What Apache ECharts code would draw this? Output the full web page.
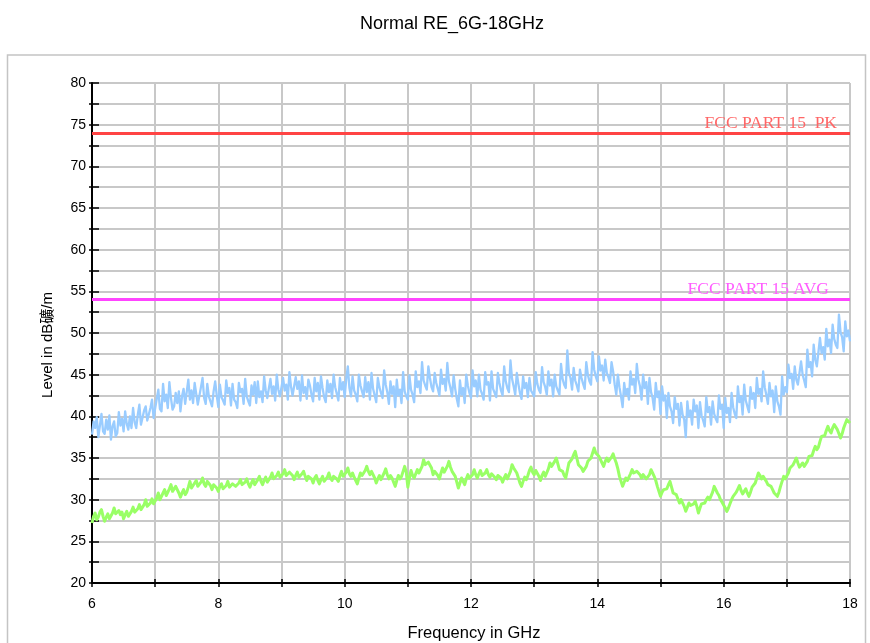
<!DOCTYPE html>
<html><head><meta charset="utf-8">
<script src="https://cdn.jsdelivr.net/npm/echarts@6/dist/echarts.min.js"></script>
<style>html,body{margin:0;padding:0;background:#fff}#c{width:870px;height:643px}</style>
</head><body><div id="c"></div>
<script>
const titleText = 'Normal RE_6G-18GHz';
const xName = 'Frequency in GHz';
const yName = 'Level in dB礦/m';
const xMin = 6, xMax = 18, xInterval = 1, xLabelEvery = 2;
const yMin = 20, yMax = 80, yInterval = 2.5, yLabelEvery = 5;
const freqStart = 6, freqStep = 0.025;
const pkLimit = 74, avgLimit = 54;
const pkLabel = 'FCC PART 15  PK';
const avgLabel = 'FCC PART 15 AVG';

// peak trace (blue), one row per GHz, 0.025 GHz steps
const peakTrace = [
 37.8,39.4,38.6,39.9,37.5,38.9,40.3,38.2,37.9,39.6,38.4,40.1,37.2,38.8,39.4,37.6,38.0,40.5,38.9,39.7,
 38.2,40.6,39.1,38.4,40.0,38.6,41.0,39.3,38.6,40.2,41.4,39.0,39.0,40.7,41.2,39.5,39.3,41.0,42.0,39.8,
 40.0,42.1,43.2,40.9,40.6,43.9,41.8,42.6,41.0,44.1,42.2,40.8,41.2,42.8,41.6,43.0,40.6,42.4,43.3,41.5,
 41.3,44.4,42.0,43.1,41.6,44.0,42.7,41.4,41.4,43.5,44.6,42.2,41.5,43.9,42.4,41.8,41.2,43.0,44.2,42.5,
 41.1,43.8,42.3,41.9,41.4,44.3,42.8,43.4,41.3,43.9,42.0,41.7,41.0,44.0,42.9,43.3,41.5,44.5,42.4,41.8,
 41.3,43.7,42.6,44.1,41.6,44.2,42.3,43.0,41.7,44.8,43.1,42.2,42.0,44.5,42.7,43.6,41.9,45.0,43.2,42.4,
 42.2,44.6,43.1,43.8,42.0,45.3,43.6,42.5,42.4,44.7,43.3,44.2,41.9,44.9,42.8,43.5,42.1,44.4,43.7,42.6,
 41.8,44.6,43.0,44.0,42.0,44.8,43.4,42.3,41.7,44.3,42.9,43.9,42.2,45.0,43.5,42.7,41.9,44.6,43.2,44.1,
 42.3,44.5,46.0,43.4,42.4,44.8,43.1,42.6,41.8,45.0,43.7,43.0,42.3,44.7,42.9,44.1,42.0,45.2,43.3,42.5,
 41.7,44.6,43.5,42.8,42.2,45.5,43.8,42.9,41.5,44.2,42.7,43.6,41.1,44.4,42.5,43.2,41.6,45.3,43.0,42.4,
 42.0,44.9,43.2,42.6,41.7,45.4,43.5,44.2,42.8,46.5,44.3,43.7,43.2,46.0,44.6,43.5,43.0,45.2,44.0,43.3,
 42.5,45.6,43.9,44.5,43.1,46.4,44.2,43.4,42.4,44.9,43.3,42.1,41.2,44.3,42.6,43.4,41.6,45.0,43.7,42.8,
 42.2,45.5,43.6,44.3,42.4,45.0,43.2,42.7,42.0,45.3,43.8,44.1,41.9,45.4,43.3,42.8,42.3,45.2,44.0,43.1,
 42.5,46.0,44.2,43.4,42.9,46.7,44.5,43.6,42.6,45.2,43.9,42.8,42.1,44.8,43.4,44.0,42.3,44.6,43.1,42.9,
 42.4,45.3,43.9,43.2,42.8,45.9,44.1,43.5,42.6,45.4,43.7,44.4,42.4,45.0,43.6,43.1,42.6,46.3,44.5,43.8,
 43.4,47.9,45.2,44.6,43.2,45.8,44.3,43.7,43.0,45.6,44.6,43.9,43.3,46.5,45.0,44.2,43.8,47.7,45.6,44.8,
 44.2,47.2,45.5,46.1,44.3,46.8,45.2,44.7,44.0,46.5,45.4,43.8,42.6,45.0,43.5,42.4,41.1,44.0,42.6,43.3,
 42.0,45.4,43.8,44.5,42.8,46.3,44.4,43.6,42.0,45.0,43.4,44.1,41.5,44.6,42.9,42.2,40.8,44.0,42.3,43.0,
 40.3,43.6,41.9,42.5,39.8,42.8,41.2,40.6,39.2,42.3,40.9,41.5,38.9,41.6,40.2,39.6,37.5,41.8,40.0,40.7,
 39.0,42.0,40.6,41.3,38.6,41.7,40.1,39.5,38.8,42.3,40.5,41.1,39.0,41.8,40.3,39.7,39.3,42.5,40.9,41.4,
 38.6,42.2,40.4,41.0,39.3,42.8,41.1,40.3,39.8,43.6,41.7,42.4,40.2,43.8,41.9,41.2,40.5,43.5,42.1,42.8,
 41.0,44.6,42.7,43.3,41.8,45.4,43.5,42.6,41.5,44.0,42.4,43.1,40.5,43.6,41.8,41.2,40.2,44.8,42.6,43.5,
 42.9,46.2,44.6,45.1,43.3,46.0,44.4,43.8,43.6,46.6,45.0,44.3,43.5,48.0,45.9,46.5,44.8,48.6,46.8,46.0,
 45.9,49.4,47.6,48.3,46.8,50.5,48.4,49.2,47.6,51.0,49.3,48.6,48.2,52.2,50.1,49.5,47.8,51.4,49.6,50.3,
 49.0
];

// average trace (green), one row per GHz, 0.025 GHz steps
const avgTrace = [
 27.2,28.0,28.4,27.6,27.9,28.5,28.8,28.0,27.4,27.9,28.3,27.7,27.6,28.4,29.0,28.3,28.1,28.7,28.2,28.5,
 27.7,28.2,28.6,28.0,28.0,28.6,29.1,28.5,28.4,28.9,29.4,28.8,28.8,29.4,30.0,29.2,29.0,29.6,30.1,29.5,
 29.4,30.2,30.8,30.0,30.2,30.8,31.2,30.5,30.6,31.3,31.8,31.0,31.0,31.6,31.4,30.8,30.3,30.8,31.2,30.6,
 30.9,31.5,32.2,31.4,31.3,32.0,32.3,31.6,31.5,32.1,32.6,31.9,31.6,32.2,32.3,31.7,31.2,31.8,32.0,31.4,
 31.0,31.6,31.9,31.3,31.1,31.7,32.2,31.5,31.3,31.9,32.1,31.6,31.4,32.0,32.4,31.8,31.6,32.1,32.5,31.9,
 31.5,32.0,32.4,31.8,31.9,32.4,32.8,32.2,31.8,32.3,32.7,32.1,32.1,32.7,33.2,32.5,32.3,32.9,33.3,32.7,
 32.5,33.1,33.6,32.9,32.8,33.3,33.5,32.9,32.4,32.9,33.3,32.7,32.6,33.1,33.4,32.8,32.3,32.8,33.0,32.5,
 32.0,32.6,32.9,32.3,31.9,32.4,32.8,32.2,32.1,32.7,33.2,32.6,32.3,32.8,33.0,32.5,32.2,32.9,33.4,32.8,
 32.6,33.3,33.8,33.1,32.8,33.2,32.7,32.3,31.9,32.6,33.2,32.9,32.8,33.5,34.0,33.4,33.0,33.4,33.3,32.6,
 32.0,32.5,32.9,32.4,32.6,33.2,33.7,33.0,32.5,32.9,32.6,32.1,31.6,32.3,32.9,32.5,32.8,33.4,34.0,33.3,
 31.5,32.6,33.5,32.9,32.6,33.1,33.6,33.2,33.2,34.0,34.8,34.2,34.0,34.5,34.6,33.8,33.0,33.4,33.5,32.9,
 32.5,33.2,33.8,33.3,33.3,34.0,34.6,33.9,33.4,33.2,32.8,32.1,31.4,32.0,32.6,32.2,31.8,32.5,33.0,32.6,
 32.4,33.0,33.6,33.0,32.6,33.1,33.5,32.9,32.7,33.2,33.6,33.0,32.7,33.1,33.2,32.7,32.4,32.9,33.1,32.6,
 32.1,32.6,33.0,32.5,32.6,33.4,34.2,33.8,33.6,33.2,32.6,32.0,31.6,32.2,32.7,32.4,32.9,33.5,33.9,33.3,
 33.0,33.5,33.4,32.8,32.3,32.9,33.3,32.8,33.0,33.7,34.4,34.0,34.0,34.6,35.0,34.3,33.6,33.8,33.4,32.9,
 32.6,33.5,34.4,34.2,34.9,35.4,35.8,35.0,34.2,34.3,33.8,33.4,33.2,34.0,34.6,34.4,35.0,35.6,36.2,35.6,
 35.4,35.2,34.8,34.4,34.0,34.6,35.0,34.6,34.7,35.1,35.5,34.9,34.4,33.7,32.8,32.2,31.6,32.1,32.6,32.3,
 32.5,33.1,33.6,33.2,33.0,33.4,33.6,33.0,32.6,33.0,32.9,32.5,32.3,33.0,33.6,33.2,32.8,32.3,31.6,31.0,
 30.4,30.9,31.2,31.0,31.3,31.8,32.2,31.5,30.8,30.9,30.6,30.1,29.6,30.0,29.9,29.2,28.6,29.1,29.6,29.3,
 29.1,29.5,29.8,29.2,28.4,29.0,29.5,29.3,29.6,30.0,30.3,30.0,30.2,30.9,31.6,31.2,30.8,30.5,30.0,29.7,
 29.6,29.0,28.6,29.0,29.5,30.0,30.4,30.6,30.9,31.3,31.7,31.1,30.7,31.0,31.3,30.8,30.4,30.9,31.5,31.6,
 32.0,32.6,33.2,32.9,32.5,32.8,32.6,32.2,31.8,31.9,31.6,31.2,30.8,30.6,30.4,30.9,31.6,32.2,32.8,32.5,
 32.6,33.2,33.8,34.0,34.2,34.6,35.0,34.4,33.9,34.1,34.4,34.0,34.0,34.6,35.2,35.0,35.3,35.9,36.4,36.0,
 36.3,37.0,37.6,37.4,37.7,38.3,38.8,38.3,38.0,38.6,39.0,38.7,38.4,37.9,37.4,37.9,38.6,39.1,39.6,39.4,
 39.2
];

const toXY = arr => arr.map((v, i) => [+(freqStart + i * freqStep).toFixed(3), v]);
const FONT = '"Liberation Sans", Arial, "Noto Sans CJK SC", sans-serif';
const gridColor = '#c8c8c8';

const chart = echarts.init(document.getElementById('c'), null, {renderer: 'canvas'});
const axisBaseX = {type: 'value', min: xMin, max: xMax, interval: xInterval};
const axisBaseY = {type: 'value', min: yMin, max: yMax, interval: yInterval};

chart.setOption({
  animation: false,
  backgroundColor: '#fff',
  title: {text: titleText, left: 355, top: 10,
    textStyle: {fontFamily: FONT, fontSize: 18, fontWeight: 'normal', color: '#000'}},
  grid: {left: 92, right: 20, top: 83, bottom: 60, containLabel: false},
  xAxis: [
    Object.assign({}, axisBaseX, {
      position: 'bottom',
      axisLine: {show: true, onZero: false, lineStyle: {color: '#000', width: 2}},
      axisTick: {show: true, inside: false, length: 4, lineStyle: {color: '#000', width: 1.5}},
      axisLabel: {show: true, margin: 14, fontFamily: FONT, fontSize: 14, color: '#000',
        formatter: v => (Math.round(v) % xLabelEvery === 0 ? String(v) : '')},
      splitLine: {show: true, lineStyle: {color: gridColor, width: 2}}
    }),
    Object.assign({}, axisBaseX, {
      position: 'bottom',
      axisLine: {show: false, onZero: false},
      axisTick: {show: true, inside: true, length: 4, lineStyle: {color: '#000', width: 1.5}},
      axisLabel: {show: false},
      splitLine: {show: false}
    })
  ],
  yAxis: [
    Object.assign({}, axisBaseY, {
      position: 'left',
      axisLine: {show: true, onZero: false, lineStyle: {color: '#000', width: 2}},
      axisTick: {show: true, inside: false, length: 3, lineStyle: {color: '#000', width: 1.5}},
      axisLabel: {show: true, margin: 6, fontFamily: FONT, fontSize: 14, color: '#000',
        formatter: v => (v % yLabelEvery === 0 ? String(v) : '')},
      splitLine: {show: true, lineStyle: {color: gridColor, width: 2}}
    }),
    Object.assign({}, axisBaseY, {
      position: 'left',
      axisLine: {show: false, onZero: false},
      axisTick: {show: true, inside: true, length: 7, lineStyle: {color: '#000', width: 1.5}},
      axisLabel: {show: false},
      splitLine: {show: false}
    })
  ],
  graphic: [
    {type: 'rect', silent: true, z: -1,
      shape: {x: 7.5, y: 55, width: 858, height: 620},
      style: {fill: 'none', stroke: '#c4c4c4', lineWidth: 1.5}},
    {type: 'text', x: 48, y: 345, rotation: Math.PI / 2,
      style: {text: yName, font: '15px ' + FONT, fill: '#000', textAlign: 'center', textVerticalAlign: 'middle'}},
    {type: 'text', x: 474, y: 633,
      style: {text: xName, font: '16.5px ' + FONT, fill: '#000', textAlign: 'center', textVerticalAlign: 'middle'}}
  ],
  series: [
    {type: 'line', name: 'Peak', data: toXY(peakTrace), showSymbol: false, symbol: 'none',
      lineStyle: {color: '#99ccff', width: 2.3, join: 'round'}, z: 3, clip: true},
    {type: 'line', name: 'Average', data: toXY(avgTrace), showSymbol: false, symbol: 'none',
      lineStyle: {color: '#99ff66', width: 3, join: 'round'}, z: 3, clip: true},
    {type: 'line', name: 'PK limit', data: [], z: 4,
      markLine: {silent: true, symbol: ['none', 'none'], animation: false,
        lineStyle: {color: '#ff4444', width: 3, type: 'solid'},
        label: {show: true, position: 'insideEndTop', formatter: pkLabel, distance: [13, 1],
          fontFamily: '"Liberation Serif", "Times New Roman", serif', fontSize: 17.5, color: '#ff6666'},
        data: [{yAxis: pkLimit}]}},
    {type: 'line', name: 'AVG limit', data: [], z: 4,
      markLine: {silent: true, symbol: ['none', 'none'], animation: false,
        lineStyle: {color: '#ff44ff', width: 3, type: 'solid'},
        label: {show: true, position: 'insideEndTop', formatter: avgLabel, distance: [21, 1],
          fontFamily: '"Liberation Serif", "Times New Roman", serif', fontSize: 17.5, color: '#ff5cff'},
        data: [{yAxis: avgLimit}]}}
  ]
});
</script>
</body></html>
